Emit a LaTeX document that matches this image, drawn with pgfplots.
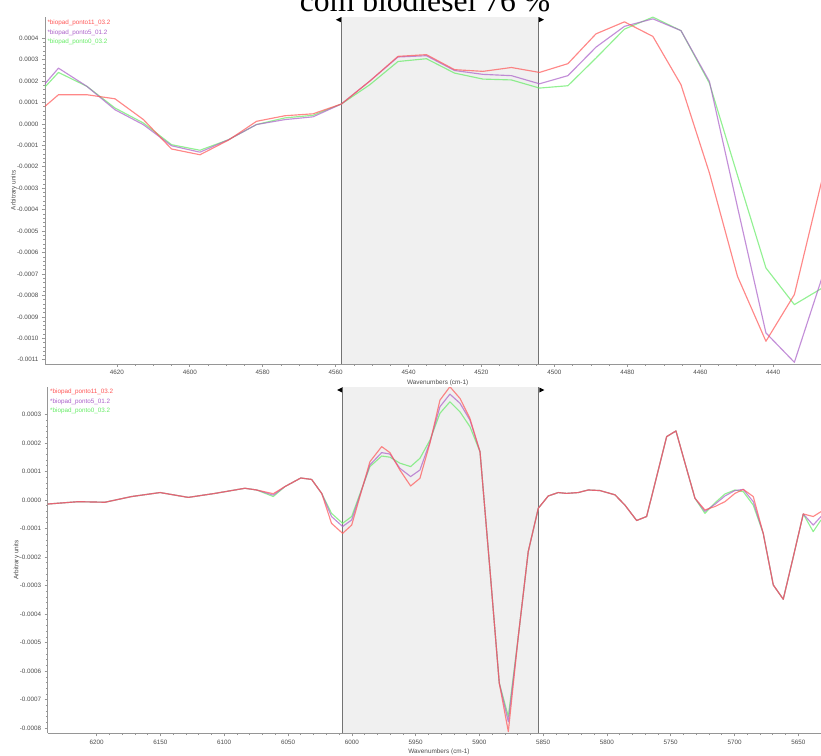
\documentclass[border=0pt]{standalone}
\usepackage{fontspec}
\setmainfont{Liberation Sans}
\newfontfamily\titlefont{Liberation Serif}
\usepackage{pgfplots}
\usepackage{pgfplotstable}
\pgfplotsset{compat=1.18}

\definecolor{cred}{RGB}{255,85,85}
\definecolor{cpurple}{RGB}{170,95,200}
\definecolor{cgreen}{RGB}{100,235,100}
\definecolor{axgray}{RGB}{150,150,150}
\definecolor{txtgray}{RGB}{75,75,75}
\definecolor{shadegray}{RGB}{240,240,240}
\definecolor{vlinegray}{RGB}{115,115,115}

\pgfplotstableread{
w r p g
4643.8 0.000022 0.000106 0.000097
4636.0 0.000136 0.000260 0.000240
4628.2 0.000136 0.000175 0.000175
4620.5 0.000117 0.000066 0.000074
4612.7 0.000020 -0.000004 0.000004
4605.0 -0.000117 -0.000102 -0.000097
4597.2 -0.000144 -0.000132 -0.000123
4589.4 -0.000076 -0.000074 -0.000074
4581.7 0.000012 -0.000003 -0.000003
4573.9 0.000038 0.000020 0.000028
4566.2 0.000047 0.000033 0.000040
4558.4 0.000093 0.000093 0.000093
4550.6 0.000200 0.000200 0.000183
4542.9 0.000315 0.000312 0.000291
4535.1 0.000323 0.000318 0.000304
4527.4 0.000253 0.000249 0.000237
4519.6 0.000245 0.000231 0.000209
4511.8 0.000263 0.000225 0.000205
4504.1 0.000240 0.000187 0.000167
4496.3 0.000281 0.000225 0.000178
4488.6 0.000420 0.000358 0.000307
4480.8 0.000476 0.000455 0.000442
4473.0 0.000408 0.000490 0.000498
4465.3 0.000183 0.000435 0.000435
4457.5 -0.000229 0.000198 0.000190
4449.8 -0.000711 -0.000388 -0.000240
4442.0 -0.001014 -0.000975 -0.000672
4434.2 -0.000796 -0.001112 -0.000843
4426.5 -0.000252 -0.000711 -0.000765
4420.0 0.000100 -0.000300 -0.000700
}\toptab

\pgfplotstableread{
w r p g
6240.5 -0.000015 -0.000015 -0.000015
6214.4 -0.000006 -0.000006 -0.000006
6193.5 -0.000008 -0.000008 -0.000008
6172.6 0.000012 0.000012 0.000012
6150.3 0.000026 0.000026 0.000026
6128.2 0.000009 0.000009 0.000009
6107.3 0.000023 0.000023 0.000023
6083.8 0.000041 0.000041 0.000041
6074.6 0.000035 0.000035 0.000035
6061.6 0.000022 0.000017 0.000012
6052.4 0.000047 0.000047 0.000047
6040.0 0.000077 0.000077 0.000077
6031.5 0.000072 0.000072 0.000072
6023.6 0.000023 0.000023 0.000023
6015.9 -0.000082 -0.000058 -0.000047
6007.2 -0.000117 -0.000093 -0.000082
6000.1 -0.000088 -0.000070 -0.000058
5985.8 0.000134 0.000123 0.000117
5976.6 0.000187 0.000166 0.000154
5970.1 0.000166 0.000161 0.000150
5962.3 0.000105 0.000111 0.000129
5953.9 0.000049 0.000082 0.000117
5946.6 0.000076 0.000105 0.000146
5938.7 0.000200 0.000204 0.000210
5930.9 0.000350 0.000327 0.000304
5923.1 0.000397 0.000371 0.000344
5915.2 0.000356 0.000339 0.000309
5907.4 0.000286 0.000280 0.000257
5899.5 0.000169 0.000169 0.000169
5891.7 -0.000245 -0.000245 -0.000245
5884.4 -0.000642 -0.000642 -0.000642
5877.3 -0.000812 -0.000777 -0.000759
5869.5 -0.000479 -0.000479 -0.000479
5861.7 -0.000181 -0.000181 -0.000181
5853.8 -0.000029 -0.000029 -0.000029
5846.0 0.000014 0.000014 0.000014
5838.2 0.000026 0.000026 0.000026
5831.7 0.000023 0.000023 0.000023
5822.5 0.000026 0.000026 0.000026
5814.6 0.000035 0.000035 0.000035
5805.5 0.000033 0.000033 0.000033
5793.7 0.000018 0.000018 0.000018
5785.9 -0.000018 -0.000018 -0.000018
5776.7 -0.000072 -0.000072 -0.000072
5768.9 -0.000058 -0.000058 -0.000058
5761.0 0.000082 0.000082 0.000082
5753.2 0.000222 0.000222 0.000222
5745.9 0.000242 0.000242 0.000242
5738.8 0.000129 0.000129 0.000129
5731.0 0.000006 0.000006 0.000006
5723.2 -0.000035 -0.000040 -0.000047
5715.3 -0.000023 -0.000015 -0.000010
5707.5 -0.000006 0.000014 0.000021
5699.7 0.000023 0.000033 0.000035
5693.1 0.000037 0.000037 0.000029
5685.3 0.000012 -0.000006 -0.000018
5677.5 -0.000117 -0.000117 -0.000117
5669.6 -0.000298 -0.000298 -0.000298
5661.8 -0.000348 -0.000348 -0.000348
5653.9 -0.000199 -0.000199 -0.000199
5646.1 -0.000049 -0.000049 -0.000049
5638.3 -0.000058 -0.000088 -0.000111
5632.2 -0.000041 -0.000058 -0.000070
}\bottab

\pgfplotsset{
  spec/.style={
    scale only axis,
    anchor=south west,
    x dir=reverse,
    axis x line*=bottom,
    axis y line*=left,
    axis line style={draw=axgray, line width=0.8pt},
    tick align=outside,
    major tick length=3pt,
    minor tick length=1.8pt,
    every tick/.style={draw=axgray, line width=0.6pt},
    minor y tick num=4,
    ticklabel style={font=\fontsize{6.3}{7}\selectfont, text=txtgray},
    /pgf/number format/assume math mode=true,
    /pgf/number format/1000 sep={},
    scaled y ticks=false,
    yticklabel style={/pgf/number format/fixed, /pgf/number format/fixed zerofill, /pgf/number format/precision=4},
    label style={font=\fontsize{6.4}{7.5}\selectfont, text=txtgray},
    xlabel={Wavenumbers (cm-1)},
    ylabel={Arbitrary units},
    xlabel style={at={(axis description cs:0.506,-0.053)}, anchor=center},
    ylabel style={at={(axis description cs:-0.040,0.5)}, anchor=center},
    every axis plot/.append style={line width=1.15pt, line join=round, opacity=0.7},
  },
}
\tikzset{
  shadeband/.style={fill=shadegray, draw=none},
  vline/.style={draw=vlinegray, line width=1.2pt},
}

\begin{document}
\begin{tikzpicture}[x=1pt,y=1pt]
\useasboundingbox (0,0) rectangle (821,755);
\clip (0,0) rectangle (821,755);

\node[anchor=base, font=\titlefont\fontsize{31.6}{36}\selectfont, inner sep=0pt] at (425,743.3) {com biodiesel 76 \%};

% ---------- top panel ----------
\begin{axis}[spec,
  at={(45pt,391pt)}, width=776pt, height=347.3pt,
  xmin=4426.9, xmax=4639.7, ymin=-0.00112, ymax=0.0005,
  xtick={4440,4460,4480,4500,4520,4540,4560,4580,4600,4620},
  minor x tick num=3,
  ytick={-0.0011,-0.001,-0.0009,-0.0008,-0.0007,-0.0006,-0.0005,-0.0004,-0.0003,-0.0002,-0.0001,0,0.0001,0.0002,0.0003,0.0004},
]
\fill[shadeband] (axis cs:4558.4,-0.00112) rectangle (axis cs:4504.4,0.0005);
\draw[vline] (axis cs:4558.4,-0.00112) -- (axis cs:4558.4,0.0005);
\draw[vline] (axis cs:4504.4,-0.00112) -- (axis cs:4504.4,0.0005);
\fill[black] (axis cs:4558.4,0.0005) ++(-0.6pt,-0.5pt) -- ++(0pt,-5pt) -- ++(-5pt,2.5pt) -- cycle;
\fill[black] (axis cs:4504.4,0.0005) ++(0.6pt,-0.5pt) -- ++(0pt,-5pt) -- ++(5pt,2.5pt) -- cycle;
\addplot[cgreen] table[x=w,y=g]{\toptab};
\addplot[cpurple] table[x=w,y=p]{\toptab};
\addplot[cred] table[x=w,y=r]{\toptab};
\end{axis}

% ---------- bottom panel ----------
\begin{axis}[spec,
  at={(47.7pt,21.7pt)}, width=773.3pt, height=346.3pt,
  xmin=5632.2, xmax=6238.4, ymin=-0.000818, ymax=0.000396,
  xtick={5650,5700,5750,5800,5850,5900,5950,6000,6050,6100,6150,6200},
  minor x tick num=4,
  ytick={-0.0008,-0.0007,-0.0006,-0.0005,-0.0004,-0.0003,-0.0002,-0.0001,0,0.0001,0.0002,0.0003},
]
\fill[shadeband] (axis cs:6007.2,-0.000818) rectangle (axis cs:5853.5,0.000396);
\draw[vline] (axis cs:6007.2,-0.000818) -- (axis cs:6007.2,0.000396);
\draw[vline] (axis cs:5853.5,-0.000818) -- (axis cs:5853.5,0.000396);
\fill[black] (axis cs:6007.2,0.000396) ++(-0.6pt,-0.5pt) -- ++(0pt,-5pt) -- ++(-5pt,2.5pt) -- cycle;
\fill[black] (axis cs:5853.5,0.000396) ++(0.6pt,-0.5pt) -- ++(0pt,-5pt) -- ++(5pt,2.5pt) -- cycle;
\addplot[cgreen] table[x=w,y=g]{\bottab};
\addplot[cpurple] table[x=w,y=p]{\bottab};
\addplot[cred] table[x=w,y=r]{\bottab};
\end{axis}

% legends
\begin{scope}[every node/.style={anchor=west, inner sep=0pt, font=\fontsize{6.3}{7}\selectfont}]
\node[text=cred] at (47.3,732.0) {*biopad\_ponto11\_03.2};
\node[text=cpurple] at (47.3,722.5) {*biopad\_ponto5\_01.2};
\node[text=cgreen] at (47.3,713.0) {*biopad\_ponto0\_03.2};
\node[text=cred] at (50,363.0) {*biopad\_ponto11\_03.2};
\node[text=cpurple] at (50,353.5) {*biopad\_ponto5\_01.2};
\node[text=cgreen] at (50,344.0) {*biopad\_ponto0\_03.2};
\end{scope}
\end{tikzpicture}
\end{document}
